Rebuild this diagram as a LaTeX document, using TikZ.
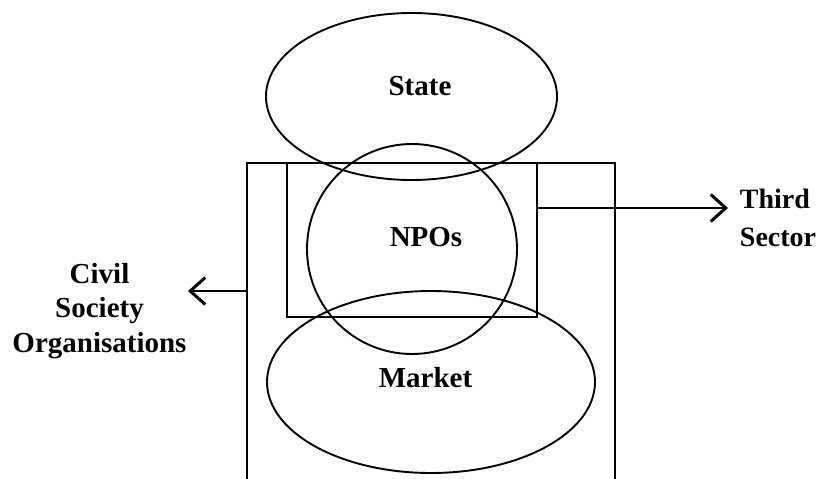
\documentclass[tikz,border=0pt]{standalone}
\usepackage{fontspec}
\setmainfont{Liberation Serif}
\usetikzlibrary{shapes.geometric,arrows.meta}
\begin{document}
\begin{tikzpicture}[x=1pt,y=-1pt,
  line width=1.9pt,
  lbl/.style={font=\fontsize{29}{34.5}\selectfont\bfseries, inner sep=0pt},
  oval/.style={draw, ellipse, inner sep=0pt},
  barb/.style={-{Straight Barb[length=15pt,width=27pt,line width=3pt]}}]
\fill[white] (0,0) rectangle (822,479);
\useasboundingbox (0,0) rectangle (822,479);

% the three overlapping sectors
\node[oval, minimum width=291pt, minimum height=167pt] (state) at (411.5,96.5) {};
\node[draw, circle, minimum size=210pt, inner sep=0pt] (npo) at (412,249) {};
\node[oval, minimum width=328pt, minimum height=182pt] (market) at (431,382) {};

% civil society box (open at the bottom) and third sector box
\coordinate (outerBL) at (247,479);
\coordinate (outerTL) at (247,163);
\coordinate (outerTR) at (615,163);
\coordinate (outerBR) at (615,479);
\draw (outerBL) -- (outerTL) -- (outerTR) -- (outerBR);
\node[draw, minimum width=250pt, minimum height=154pt, inner sep=0pt] (inner) at (412,240) {};

% labels
\node[lbl, anchor=base] (tstate) at (420,95) {State};
\node[lbl, anchor=base] (tnpo) at (426,246) {NPOs};
\node[lbl, anchor=base] (tmarket) at (425.5,387) {Market};
\node[lbl, font=\fontsize{28}{38}\selectfont\bfseries, anchor=north west, align=left] (third) at (739,188) {Third\\Sector};
\node[lbl, anchor=north, align=center] (civil) at (99.5,262) {Civil\\Society\\Organisations};

% pointers to the outer labels
\coordinate (innerR) at (inner.east |- 0,208);
\coordinate (tipR) at (728,208);
\coordinate (outerL) at (247,291);
\coordinate (tipL) at (188,291);
\draw[barb] (innerR) -- (tipR);
\draw[barb] (outerL) -- (tipL);
\end{tikzpicture}
\end{document}
